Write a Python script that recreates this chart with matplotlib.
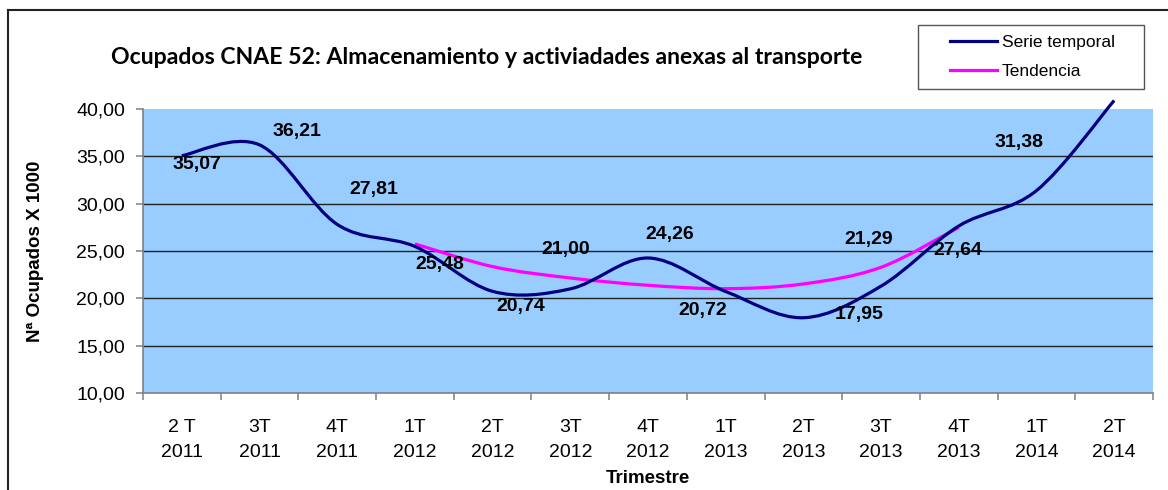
import matplotlib
matplotlib.use("Agg")
import matplotlib.pyplot as plt
import numpy as np
from matplotlib.path import Path
from matplotlib.patches import PathPatch, Rectangle
from matplotlib.lines import Line2D
from matplotlib.ticker import FuncFormatter, FixedLocator

# ---------------- data ----------------
trimestres = ["2 T\n2011", "3T\n2011", "4T\n2011", "1T\n2012", "2T\n2012", "3T\n2012",
              "4T\n2012", "1T\n2013", "2T\n2013", "3T\n2013", "4T\n2013", "1T\n2014", "2T\n2014"]
serie_temporal = [35.07, 36.21, 27.81, 25.48, 20.74, 21.00, 24.26, 20.72, 17.95, 21.29, 27.64, 31.38, 40.90]
tendencia_inicio = 3  # first quarter with trend value (1T 2012)
tendencia = [25.75, 23.35, 22.15, 21.38, 21.02, 21.52, 23.28, 27.50]
etiquetas = ["35,07", "36,21", "27,81", "25,48", "20,74", "21,00", "24,26",
             "20,72", "17,95", "21,29", "27,64", "31,38"]
# label offsets (pixels, x right / y up) relative to each point
etiqueta_dx = [15, 37, 37, 25, 28, -5, 22, -23, 56, -12, -1, -17]
etiqueta_dy = [-9, 13, 35, -18, -15, 39, 24, -19, 3, 47, -24, 48]

titulo = "Ocupados CNAE 52: Almacenamiento y activiadades anexas al transporte"
ylabel = "Nª Ocupados X 1000"
xlabel = "Trimestre"
leyenda = ["Serie temporal", "Tendencia"]

NAVY = "#000080"
MAGENTA = "#FF00FF"
BG = "#99CCFF"

W, H = 1168, 490
plt.rcParams['font.family'] = ['Liberation Sans', 'DejaVu Sans']

fig = plt.figure(figsize=(W / 100, H / 100), dpi=100)
fig.patch.set_facecolor("white")
ax = fig.add_axes([143 / W, 1 - 393 / H, (1153 - 143) / W, (393 - 109) / H])
ax.set_facecolor(BG)


def smooth_path(xs, ys):
    pts = np.column_stack([xs, ys]).astype(float)
    n = len(pts)
    verts = [pts[0]]
    codes = [Path.MOVETO]
    for i in range(n - 1):
        p0 = pts[i - 1] if i > 0 else pts[i]
        p1 = pts[i]
        p2 = pts[i + 1]
        p3 = pts[i + 2] if i + 2 < n else pts[i + 1]
        verts += [p1 + (p2 - p0) / 6.0, p2 - (p3 - p1) / 6.0, p2]
        codes += [Path.CURVE4] * 3
    return Path(verts, codes)


x_serie = np.arange(len(serie_temporal))
x_tend = np.arange(tendencia_inicio, tendencia_inicio + len(tendencia))

ax.set_xlim(-0.5, len(trimestres) - 0.5)
ax.set_ylim(10, 40)

# grid lines (not at top)
for yv in range(15, 40, 5):
    ax.axhline(yv, color="#222222", lw=1.0, zorder=1)

p_serie = PathPatch(smooth_path(x_serie, serie_temporal), facecolor="none",
                    edgecolor=NAVY, lw=2.3, zorder=4, clip_on=False, capstyle="butt")
p_tend = PathPatch(smooth_path(x_tend, tendencia), facecolor="none",
                   edgecolor=MAGENTA, lw=2.3, zorder=3, capstyle="butt")
ax.add_patch(p_serie)
ax.add_patch(p_tend)

for i, txt in enumerate(etiquetas):
    ax.annotate(txt, (x_serie[i], serie_temporal[i]), xytext=(etiqueta_dx[i], etiqueta_dy[i]),
                textcoords="offset pixels", ha="center", va="center",
                fontsize=14, fontweight="bold", color="black", zorder=6)

# axes styling
for s in ["top", "right"]:
    ax.spines[s].set_visible(False)
for s in ["left", "bottom"]:
    ax.spines[s].set_color("#808080")
    ax.spines[s].set_linewidth(1.2)

ax.yaxis.set_major_locator(FixedLocator(np.arange(10, 41, 5)))
ax.yaxis.set_major_formatter(FuncFormatter(lambda v, p: f"{v:.2f}".replace(".", ",")))
ax.tick_params(axis="y", direction="out", length=5, width=1.1, color="#808080",
               labelsize=14, pad=8)

ax.xaxis.set_major_locator(FixedLocator(np.arange(-0.5, len(trimestres), 1.0)))
ax.xaxis.set_major_formatter(FuncFormatter(lambda v, p: ""))
ax.set_xticks(x_serie, trimestres, minor=True)
ax.tick_params(axis="x", which="major", direction="out", length=5, width=1.1, color="#808080")
ax.tick_params(axis="x", which="minor", length=0, labelsize=14, pad=19)
for lab in ax.get_xticklabels(minor=True):
    lab.set_linespacing(1.55)

fig.text(35 / W, 1 - 251 / H, ylabel, rotation=90, ha="center", va="center",
         fontsize=13.5, fontweight="bold")
fig.text(648 / W, 1 - 478 / H, xlabel, ha="center", va="center",
         fontsize=13.5, fontweight="bold")
fig.text(487 / W, 1 - 57 / H, titulo, ha="center", va="center",
         fontsize=16.6, fontweight="bold", family=["Lato", "DejaVu Sans"])

# legend box
fig.patches.append(Rectangle((918 / W, 1 - 89 / H), (1144 - 918) / W, (89 - 25) / H,
                             transform=fig.transFigure, facecolor="white",
                             edgecolor="#555555", lw=1.0, zorder=5))
handles = [Line2D([], [], color=NAVY, lw=2.3), Line2D([], [], color=MAGENTA, lw=2.3)]
leg = fig.legend(handles, leyenda, loc="upper left",
                 bbox_to_anchor=(950 / W, 1 - 35 / H), frameon=False,
                 fontsize=12.5, handlelength=2.7, handletextpad=0.3,
                 borderpad=0, borderaxespad=0, labelspacing=0.78)
leg.set_zorder(6)

# outer chart border (left and top)
fig.lines.append(Line2D([8 / W, 8 / W], [0, 1 - 10 / H], transform=fig.transFigure,
                        color="#222222", lw=1.5))
fig.lines.append(Line2D([8 / W, 1], [1 - 10 / H, 1 - 10 / H], transform=fig.transFigure,
                        color="#222222", lw=1.5))

fig.savefig("out.png", dpi=100)
